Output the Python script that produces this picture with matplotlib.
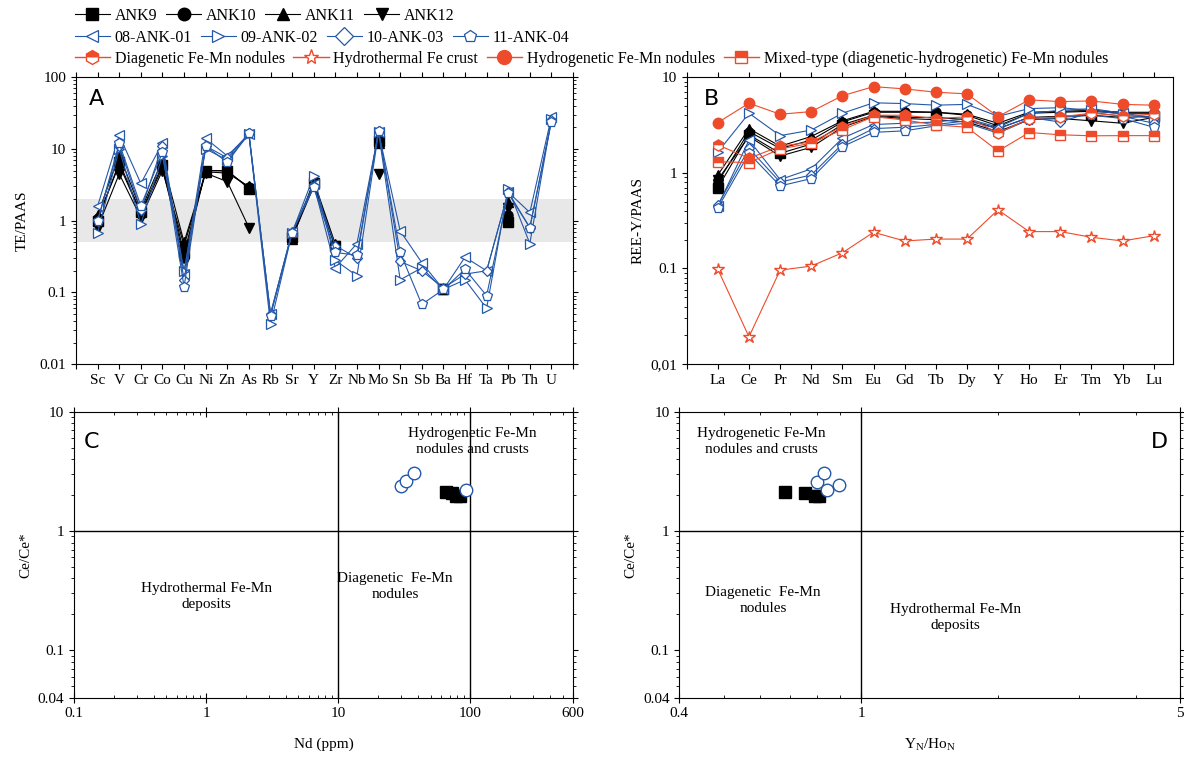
import numpy as np
import matplotlib
matplotlib.use("Agg")
import matplotlib.pyplot as plt
from matplotlib.lines import Line2D
from matplotlib.ticker import FixedLocator, LogLocator, NullFormatter

plt.rcParams['font.family'] = ['Liberation Serif', 'DejaVu Serif']
plt.rcParams['mathtext.fontset'] = 'stix'
plt.rcParams['font.size'] = 11

nan = np.nan
BLUE = '#2458a8'
RED = '#ee4b2b'

# ---------------- panel A: trace elements / PAAS ----------------
te = ["Sc", "V", "Cr", "Co", "Cu", "Ni", "Zn", "As", "Rb", "Sr", "Y", "Zr", "Nb",
      "Mo", "Sn", "Sb", "Ba", "Hf", "Ta", "Pb", "Th", "U"]
a_ank9 = [1.0, 6.5, 1.3, 6.0, 0.35, 5.0, 5.0, 2.8, nan, 0.6, 3.3, 0.45, nan,
          13, nan, nan, 0.11, nan, nan, 0.95, nan, nan]
a_ank10 = [1.1, 6.0, 1.25, 5.5, 0.3, 5.0, 4.9, 2.9, nan, 0.62, 3.2, 0.42, nan,
           13, nan, nan, 0.11, nan, nan, 1.2, nan, nan]
a_ank11 = [1.2, 8.3, 1.4, 7.0, 0.5, 4.8, 4.6, 3.0, nan, 0.55, 3.6, 0.47, nan,
           12, nan, nan, 0.11, nan, nan, 1.8, nan, nan]
a_ank12 = [0.8, 4.5, 1.1, 5.0, 0.45, 4.6, 3.5, 0.8, nan, 0.58, 3.0, 0.44, nan,
           4.5, nan, nan, 0.11, nan, nan, 1.5, nan, nan]
a_08 = [1.6, 15.5, 3.3, 12, 0.18, 14, 8.0, 16, 0.05, 0.7, 3.2, 0.22, 0.48,
        17, 0.72, 0.26, 0.11, 0.31, 0.2, 2.5, 1.3, 28]
a_09 = [0.68, 10, 0.9, 8.0, 0.2, 10, 7.0, 16, 0.036, 0.68, 4.2, 0.28, 0.17,
        17, 0.15, 0.22, 0.11, 0.15, 0.06, 2.8, 0.48, 26]
a_10 = [1.0, 11, 1.4, 11, 0.15, 11, 7.5, 16.5, 0.05, 0.7, 3.0, 0.45, 0.3,
        18, 0.27, 0.2, 0.115, 0.18, 0.2, 2.5, 0.8, 25]
a_11 = [1.0, 12, 1.6, 9.0, 0.12, 11, 6.5, 16.5, 0.047, 0.68, 2.9, 0.36, 0.33,
        17.8, 0.36, 0.068, 0.11, 0.21, 0.09, 2.4, 0.8, 24]

# ---------------- panel B: REE-Y / PAAS ----------------
ree = ["La", "Ce", "Pr", "Nd", "Sm", "Eu", "Gd", "Tb", "Dy", "Y", "Ho", "Er", "Tm", "Yb", "Lu"]
b_ank9 = [0.7, 2.5, 1.6, 2.0, 3.2, 4.0, 3.8, 3.8, 3.6, 2.9, 3.8, 3.9, 4.0, 3.8, 3.9]
b_ank10 = [0.8, 2.7, 1.8, 2.2, 3.4, 4.3, 4.3, 4.3, 4.0, 3.1, 4.2, 4.3, 4.4, 4.2, 4.2]
b_ank11 = [0.95, 2.9, 1.9, 2.4, 3.5, 4.4, 4.4, 4.3, 4.1, 3.3, 4.3, 4.4, 4.5, 4.3, 4.3]
b_ank12 = [0.85, 2.4, 1.5, 1.85, 3.0, 3.9, 3.7, 3.6, 3.4, 2.7, 3.6, 3.7, 3.5, 3.3, 3.8]
b_08 = [0.45, 2.2, 0.85, 1.1, 2.3, 3.2, 3.3, 3.4, 3.7, 3.0, 4.2, 4.5, 4.7, 4.2, 3.8]
b_09 = [1.65, 4.2, 2.45, 2.8, 4.2, 5.4, 5.3, 5.1, 5.2, 3.9, 4.7, 4.8, 4.5, 4.1, 3.7]
b_10 = [0.46, 1.8, 0.8, 0.95, 2.0, 2.9, 3.0, 3.2, 3.5, 2.9, 3.8, 3.4, 4.3, 3.9, 3.3]
b_11 = [0.43, 1.6, 0.73, 0.87, 1.88, 2.65, 2.75, 3.1, 3.3, 2.6, 3.6, 3.8, 4.0, 3.7, 3.0]
b_diag = [1.96, 1.42, 1.9, 2.1, 3.05, 4.0, 4.0, 3.7, 3.85, 2.6, 3.7, 3.85, 4.2, 3.95, 4.1]
b_hydrot = [0.098, 0.0193, 0.096, 0.106, 0.146, 0.239, 0.194, 0.203, 0.203, 0.41,
            0.243, 0.243, 0.212, 0.194, 0.22]
b_hydrog = [3.36, 5.35, 4.1, 4.37, 6.4, 7.97, 7.55, 6.97, 6.7, 3.87, 5.8, 5.56, 5.65, 5.2, 5.1]
b_mixed = [1.31, 1.28, 1.78, 2.04, 2.82, 3.87, 3.57, 3.17, 3.0, 1.69, 2.64, 2.5, 2.44, 2.45, 2.45]

# ---------------- panels C and D: discrimination plots ----------------
c_nd_ank = [66, 73, 78, 83]
c_ce_ank = [2.14, 2.1, 1.98, 1.96]
c_nd_ank0 = [29.9, 32.7, 37.3, 92.5]
c_ce_ank0 = [2.4, 2.62, 3.08, 2.21]
d_yho_ank = [0.68, 0.753, 0.794, 0.81]
d_ce_ank = [2.14, 2.1, 1.96, 1.96]
d_yho_ank0 = [0.80, 0.83, 0.843, 0.895]
d_ce_ank0 = [2.59, 3.06, 2.21, 2.41]

black_st = [("ANK9", "s", a_ank9, b_ank9), ("ANK10", "o", a_ank10, b_ank10),
            ("ANK11", "^", a_ank11, b_ank11), ("ANK12", "v", a_ank12, b_ank12)]
blue_st = [("08-ANK-01", "<", a_08, b_08), ("09-ANK-02", ">", a_09, b_09),
           ("10-ANK-03", "D", a_10, b_10), ("11-ANK-04", "p", a_11, b_11)]

fig = plt.figure(figsize=(11.84, 7.57), dpi=100)
axA = fig.add_axes([0.0642, 0.519, 0.4198, 0.379])
axB = fig.add_axes([0.580, 0.519, 0.4107, 0.379])
axC = fig.add_axes([0.0625, 0.0783, 0.4215, 0.3777])
axD = fig.add_axes([0.5737, 0.0783, 0.4231, 0.3777])


def black_kw(m):
    return dict(color="black", marker=m, mfc="black", mec="black", ms=6.5, lw=0.8)


def blue_kw(m):
    ms = 5.5 if m == "D" else 7
    return dict(color=BLUE, marker=m, mfc="white", mec=BLUE, ms=ms, lw=0.8, mew=0.9)


# panel A
xa = np.arange(len(te))
axA.axhspan(0.5, 2, color="#e8e8e8", zorder=0, lw=0)
for name, m, ya, _ in black_st:
    axA.plot(xa, ya, **black_kw(m))
for name, m, ya, _ in blue_st:
    axA.plot(xa, ya, **blue_kw(m))
axA.set_yscale("log")
axA.set_ylim(0.01, 100)
axA.set_xlim(-1, 22)
axA.set_xticks(np.arange(-1, 23))
axA.set_xticklabels([""] + te + [""])
axA.set_yticks([0.01, 0.1, 1, 10, 100])
axA.set_yticklabels(["0.01", "0.1", "1", "10", "100"])
axA.set_ylabel("TE/PAAS", labelpad=8)
axA.tick_params(which="both", direction="out", top=True, right=True)
axA.text(0.025, 0.96, "A", transform=axA.transAxes, family="DejaVu Sans",
         fontsize=16, va="top")

# panel B
xb = np.arange(len(ree))
for name, m, _, yb in black_st:
    axB.plot(xb, yb, **black_kw(m))
for name, m, _, yb in blue_st:
    axB.plot(xb, yb, **blue_kw(m))
axB.plot(xb, b_diag, color=RED, marker="h", ms=8, lw=0.8, fillstyle="top",
         mfc=RED, mfcalt="white", mec=RED)
axB.plot(xb, b_hydrot, color=RED, marker="*", ms=9, lw=0.8, mfc="white", mec=RED)
axB.plot(xb, b_hydrog, color=RED, marker="o", ms=7.5, lw=0.8, mfc=RED, mec=RED)
axB.plot(xb, b_mixed, color=RED, marker="s", ms=6.5, lw=0.8, fillstyle="top",
         mfc=RED, mfcalt="white", mec=RED)
axB.set_yscale("log")
axB.set_ylim(0.01, 10)
axB.set_xlim(-1, 14.62)
axB.set_xticks(np.arange(-1, 15))
axB.set_xticklabels([""] + ree)
axB.set_yticks([0.01, 0.1, 1, 10])
axB.set_yticklabels(["0,01", "0.1", "1", "10"])
axB.set_ylabel("REE-Y/PAAS")
axB.tick_params(which="both", direction="out", top=True)
axB.text(0.035, 0.96, "B", transform=axB.transAxes, family="DejaVu Sans",
         fontsize=16, va="top")

# panels C and D
for ax in (axC, axD):
    ax.set_xscale("log")
    ax.set_yscale("log")
    ax.set_ylim(0.04, 10)
    ax.axhline(1, color="black", lw=1)
    ax.yaxis.set_major_locator(FixedLocator([0.04, 0.1, 1, 10]))
    ax.yaxis.set_minor_locator(LogLocator(base=10, subs=np.arange(2, 10)))
    ax.yaxis.set_minor_formatter(NullFormatter())
    ax.set_yticklabels(["0.04", "0.1", "1", "10"])
    ax.set_ylabel("Ce/Ce*")
    ax.tick_params(axis="y", which="both", direction="out")
    ax.tick_params(axis="x", which="major", direction="inout", length=7)
    ax.tick_params(axis="x", which="minor", direction="in")
    ax.tick_params(which="both", right=True, top=True)

axC.set_xlim(0.1, 600)
axC.axvline(10, color="black", lw=1)
axC.axvline(100, color="black", lw=1)
axC.xaxis.set_major_locator(FixedLocator([0.1, 1, 10, 100, 600]))
axC.xaxis.set_minor_locator(LogLocator(base=10, subs=np.arange(2, 10)))
axC.xaxis.set_minor_formatter(NullFormatter())
axC.set_xticklabels(["0.1", "1", "10", "100", "600"])
axC.set_xlabel("Nd (ppm)", labelpad=12)
axC.plot(c_nd_ank, c_ce_ank, "s", color="black", ms=9, ls="none")
axC.plot(c_nd_ank0, c_ce_ank0, "o", mfc="white", mec=BLUE, ms=9, ls="none")
axC.text(104, 5.6, "Hydrogenetic Fe-Mn\nnodules and crusts", ha="center", va="center",
         linespacing=1.3)
axC.text(27, 0.34, "Diagenetic  Fe-Mn\nnodules", ha="center", va="center", linespacing=1.3)
axC.text(1.0, 0.285, "Hydrothermal Fe-Mn\ndeposits", ha="center", va="center",
         linespacing=1.3)
axC.text(0.02, 0.93, "C", transform=axC.transAxes, family="DejaVu Sans",
         fontsize=16, va="top")

axD.set_xlim(0.4, 5)
axD.axvline(1, color="black", lw=1)
axD.xaxis.set_major_locator(FixedLocator([0.4, 1, 5]))
axD.xaxis.set_minor_locator(FixedLocator([0.5, 0.6, 0.7, 0.8, 0.9, 2, 3, 4]))
axD.xaxis.set_minor_formatter(NullFormatter())
axD.set_xticklabels(["0.4", "1", "5"])
axD.set_xlabel(r"Y$_\mathregular{N}$/Ho$_\mathregular{N}$", labelpad=12)
axD.plot(d_yho_ank, d_ce_ank, "s", color="black", ms=9, ls="none")
axD.plot(d_yho_ank0, d_ce_ank0, "o", mfc="white", mec=BLUE, ms=9, ls="none")
axD.text(0.605, 5.6, "Hydrogenetic Fe-Mn\nnodules and crusts", ha="center", va="center",
         linespacing=1.3)
axD.text(0.61, 0.264, "Diagenetic  Fe-Mn\nnodules", ha="center", va="center",
         linespacing=1.3)
axD.text(1.61, 0.19, "Hydrothermal Fe-Mn\ndeposits", ha="center", va="center",
         linespacing=1.3)
axD.text(0.975, 0.93, "D", transform=axD.transAxes, family="DejaVu Sans",
         fontsize=16, va="top", ha="right")

# legend rows
row1 = [Line2D([], [], label=n, **dict(black_kw(m), ms=9)) for n, m, _, _ in black_st]
row2 = [Line2D([], [], label=n, **dict(blue_kw(m), ms=9)) for n, m, _, _ in blue_st]
row3 = [
    Line2D([], [], color=RED, marker="h", ms=10, lw=1, fillstyle="top", mfc=RED,
           mfcalt="white", mec=RED, label="Diagenetic Fe-Mn nodules"),
    Line2D([], [], color=RED, marker="*", ms=11, lw=1, mfc="white", mec=RED,
           label="Hydrothermal Fe crust"),
    Line2D([], [], color=RED, marker="o", ms=10, lw=1, mfc=RED, mec=RED,
           label="Hydrogenetic Fe-Mn nodules"),
    Line2D([], [], color=RED, marker="s", ms=9, lw=1, fillstyle="top", mfc=RED,
           mfcalt="white", mec=RED, label="Mixed-type (diagenetic-hydrogenetic) Fe-Mn nodules"),
]
for handles, yy in ((row1, 0.979), (row2, 0.950), (row3, 0.922)):
    fig.legend(handles=handles, loc="center left", bbox_to_anchor=(0.063, yy), ncol=4,
               frameon=False, handlelength=2.2, handletextpad=0.3, columnspacing=0.55,
               borderpad=0, borderaxespad=0, fontsize=11.5)

fig.savefig("out.png", dpi=100)
